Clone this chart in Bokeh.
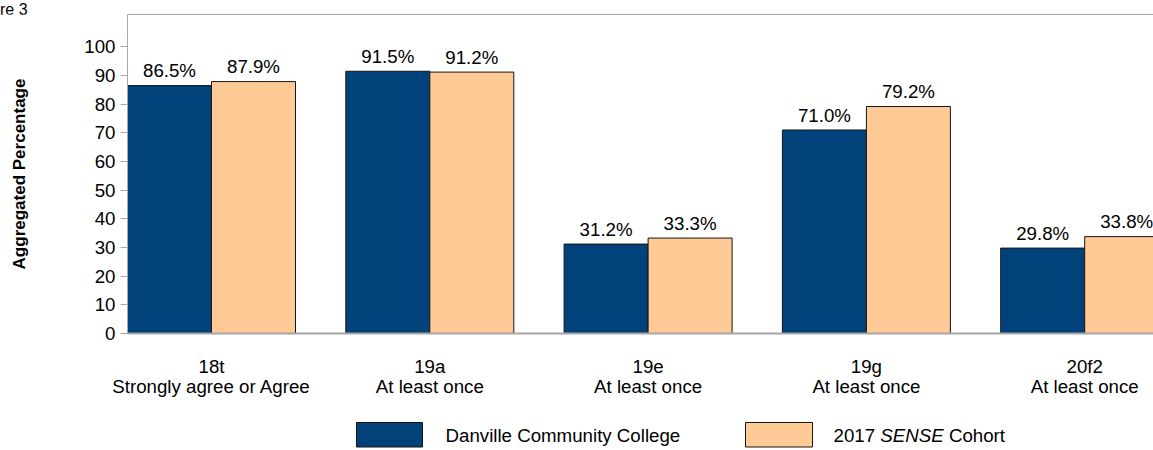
from bokeh.plotting import figure
from bokeh.models import ColumnDataSource, Range1d, FixedTicker, LinearAxis, LabelSet, Div
from bokeh.layouts import column
from bokeh.embed import file_html
from bokeh.resources import INLINE
from bokeh.transform import dodge
from bokeh.core.properties import value

# ---- data ----
codes = ["18t", "19a", "19e", "19g", "20f2"]
responses = ["Strongly agree or Agree", "At least once", "At least once",
             "At least once", "At least once"]
college = [86.5, 91.5, 31.2, 71.0, 29.8]
cohort = [87.9, 91.2, 33.3, 79.2, 33.8]
series_names = ["Danville Community College", "2017 SENSE Cohort"]
y_ticks = [0, 10, 20, 30, 40, 50, 60, 70, 80, 90, 100]
figure_tag = "re 3"
y_title = "Aggregated Percentage"

# ---- style ----
FONT = "Liberation Sans"
FS = "18.7px"
BLUE = "#02427A"
PEACH = "#FFCA96"
GRAY = "#A6A6A6"
EDGE = "#151515"
BW = 0.3848          # bar width in category units
PX = 218.3           # pixels per category unit
W = 1153
LEFT = 127
TOP_DIV = 14
H_MAIN = 410 - TOP_DIV
H_LEG = 40

idx = list(range(len(codes)))
src = ColumnDataSource(dict(
    x=idx, college=college, cohort=cohort,
    college_lbl=[f"{v:.1f}%" for v in college],
    cohort_lbl=[f"{v:.1f}%" for v in cohort],
))

tag = Div(text=figure_tag, width=60, height=TOP_DIV, margin=0,
          height_policy="fixed", width_policy="fixed",
          styles={"font-family": FONT, "font-size": "16px", "line-height": "19px",
                  "color": "black", "overflow": "visible", "white-space": "nowrap",
                  "margin": "0", "padding": "0"})

frame_w = W - LEFT
p = figure(width=W, height=H_MAIN,
           x_range=Range1d(-BW, -BW + frame_w / PX),
           y_range=Range1d(0, 111.3),
           output_backend="svg", toolbar_location=None,
           min_border_left=LEFT, min_border_right=0,
           min_border_top=0, min_border_bottom=410 - 333)
p.outline_line_color = None
p.xgrid.visible = False
p.ygrid.visible = False

p.vbar(x=dodge("x", -BW / 2), top="college", bottom=0, width=BW, source=src,
       fill_color=BLUE, line_color=EDGE, line_width=1)
p.vbar(x=dodge("x", BW / 2), top="cohort", bottom=0, width=BW, source=src,
       fill_color=PEACH, line_color=EDGE, line_width=1)

for fld, lbl, off in (("college", "college_lbl", -BW / 2), ("cohort", "cohort_lbl", BW / 2)):
    p.add_layout(LabelSet(x=dodge("x", off), y=fld, text=lbl, source=src,
                          text_align="center", text_baseline="alphabetic",
                          y_offset=8.5, text_font=value(FONT),
                          text_font_size=value(FS), text_color="black"))

# first row of category labels (question codes), nearest the frame
xa = p.xaxis[0]
xa.ticker = FixedTicker(ticks=idx)
xa.major_label_overrides = {i: c for i, c in enumerate(codes)}
xa.major_tick_line_color = None
xa.minor_tick_line_color = None
xa.axis_line_color = GRAY
xa.axis_line_width = 2
xa.major_label_standoff = 16
xa.major_label_text_font = FONT
xa.major_label_text_font_size = FS
xa.major_label_text_color = "black"

# second row of category labels (response options)
xa2 = LinearAxis(ticker=FixedTicker(ticks=idx),
                 major_label_overrides={i: r for i, r in enumerate(responses)},
                 axis_line_color=None, major_tick_line_color=None,
                 minor_tick_line_color=None, major_label_standoff=-10,
                 major_label_text_font=FONT, major_label_text_font_size=FS,
                 major_label_text_color="black")
p.add_layout(xa2, "below")

ya = p.yaxis[0]
ya.ticker = FixedTicker(ticks=y_ticks)
ya.axis_line_color = GRAY
ya.axis_line_width = 1
ya.major_tick_line_color = GRAY
ya.major_tick_out = 7
ya.major_tick_in = 0
ya.minor_tick_line_color = None
ya.major_label_standoff = 5
ya.major_label_text_font = FONT
ya.major_label_text_font_size = FS
ya.major_label_text_color = "black"
ya.axis_label = y_title
ya.axis_label_text_font = FONT
ya.axis_label_text_font_size = "17px"
ya.axis_label_text_font_style = "bold"
ya.axis_label_text_color = "black"
ya.axis_label_standoff = 52

top = LinearAxis(ticker=FixedTicker(ticks=[]), axis_line_color=GRAY, axis_line_width=1,
                 major_tick_line_color=None, minor_tick_line_color=None,
                 major_label_text_font_size="0px")
p.add_layout(top, "above")

# ---- legend strip (data x = page pixel x, data y = pixels below y=410) ----
p2 = figure(width=W, height=H_LEG, x_range=Range1d(LEFT, W), y_range=Range1d(H_LEG, 0),
            output_backend="svg", toolbar_location=None,
            min_border_left=LEFT, min_border_right=0, min_border_top=0, min_border_bottom=0,
            x_axis_location=None, y_axis_location=None)
p2.outline_line_color = None
p2.xgrid.visible = False
p2.ygrid.visible = False

p2.quad(left=[356, 745], right=[422, 812], top=[12, 12], bottom=[36.5, 36.5],
        fill_color=[BLUE, PEACH], line_color=EDGE, line_width=1)
p2.text(x=[445], y=[24.5], text=[series_names[0]], text_baseline="middle",
        text_font=value(FONT), text_font_size=value(FS), text_color="black")
parts = series_names[1].split(" ")
p2.text(x=[833, 948.4], y=[24.5, 24.5], text=[parts[0], parts[2]], text_baseline="middle",
        text_font=value(FONT), text_font_size=value(FS), text_color="black")
p2.text(x=[879.8], y=[24.5], text=[parts[1]], text_baseline="middle",
        text_font=value(FONT), text_font_size=value(FS), text_font_style="italic",
        text_color="black")

layout = column(tag, p, p2, spacing=0)
open("out.html", "w").write(file_html(layout, INLINE))
